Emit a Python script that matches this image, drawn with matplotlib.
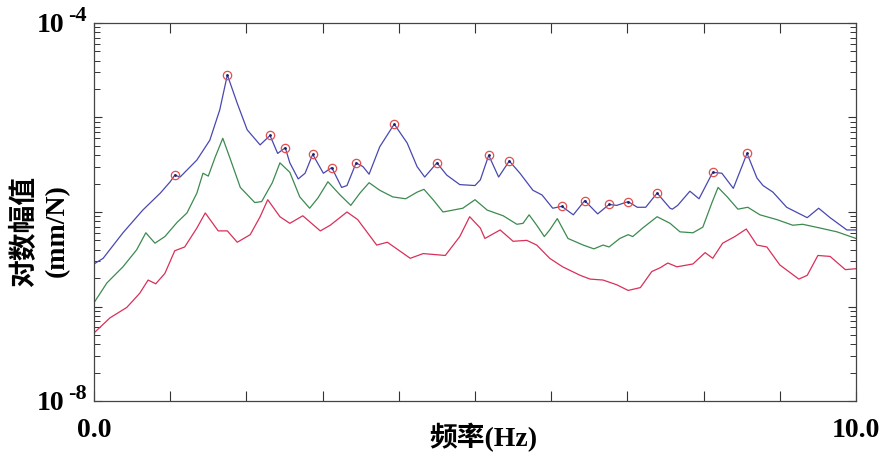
import numpy as np
import matplotlib.pyplot as plt
from matplotlib.ticker import FixedLocator, FixedFormatter, LogLocator, NullFormatter

plt.rcParams['font.family'] = ['Liberation Serif', 'Noto Sans CJK SC']

# log10 of amplitude (mm/N)
blue_f = [0.00, 0.12, 0.38, 0.64, 0.87, 1.00, 1.06, 1.13, 1.35, 1.52, 1.65, 1.75, 1.88, 2.01,
          2.18, 2.31, 2.41, 2.51, 2.57, 2.68, 2.77, 2.87, 3.01, 3.12, 3.25, 3.32, 3.44, 3.53,
          3.61, 3.75, 3.94, 4.11, 4.24, 4.34, 4.50, 4.63, 4.80, 5.00, 5.07, 5.18, 5.31, 5.45,
          5.59, 5.76, 5.88, 6.02, 6.14, 6.29, 6.44, 6.61, 6.76, 6.86, 7.01, 7.13, 7.24, 7.39,
          7.56, 7.59, 7.66, 7.82, 7.94, 8.12, 8.24, 8.39, 8.57, 8.70, 8.78, 8.91, 9.09, 9.36,
          9.51, 9.66, 9.88, 10.0]
blue_e = [-6.55, -6.49, -6.22, -5.98, -5.80, -5.68, -5.61, -5.63, -5.45, -5.24, -4.92, -4.55, -4.85, -5.13,
          -5.29, -5.19, -5.38, -5.32, -5.48, -5.65, -5.59, -5.39, -5.59, -5.53, -5.74, -5.72, -5.48, -5.52,
          -5.60, -5.31, -5.07, -5.27, -5.52, -5.63, -5.48, -5.61, -5.71, -5.72, -5.66, -5.40, -5.63, -5.46,
          -5.59, -5.77, -5.82, -5.96, -5.94, -6.03, -5.88, -6.02, -5.92, -5.93, -5.89, -5.95, -5.95, -5.80,
          -5.96, -5.97, -5.93, -5.78, -5.86, -5.58, -5.59, -5.75, -5.38, -5.64, -5.72, -5.79, -5.95, -6.06,
          -5.96, -6.06, -6.19, -6.19]

green_f = [0.00, 0.17, 0.38, 0.56, 0.68, 0.80, 0.93, 1.09, 1.22, 1.35, 1.43, 1.50, 1.59, 1.69,
           1.78, 1.92, 2.11, 2.20, 2.34, 2.44, 2.57, 2.70, 2.83, 2.94, 3.07, 3.23, 3.37, 3.49,
           3.61, 3.75, 3.92, 4.09, 4.24, 4.33, 4.45, 4.58, 4.84, 5.00, 5.16, 5.37, 5.55, 5.63,
           5.71, 5.81, 5.91, 5.98, 6.08, 6.22, 6.42, 6.56, 6.68, 6.76, 6.90, 7.01, 7.07, 7.20,
           7.39, 7.56, 7.69, 7.86, 7.99, 8.11, 8.19, 8.31, 8.45, 8.58, 8.74, 8.96, 9.17, 9.30,
           9.53, 9.75, 10.0]
green_e = [-6.96, -6.75, -6.58, -6.40, -6.22, -6.33, -6.26, -6.11, -6.01, -5.80, -5.59, -5.62, -5.42, -5.22,
           -5.42, -5.74, -5.90, -5.89, -5.69, -5.48, -5.58, -5.84, -5.96, -5.85, -5.68, -5.82, -5.93, -5.80,
           -5.69, -5.77, -5.84, -5.86, -5.79, -5.76, -5.87, -6.00, -5.96, -5.87, -5.98, -6.04, -6.13, -6.12,
           -6.03, -6.14, -6.26, -6.19, -6.07, -6.28, -6.35, -6.39, -6.35, -6.37, -6.28, -6.24, -6.26, -6.17,
           -6.05, -6.12, -6.21, -6.22, -6.16, -5.90, -5.74, -5.84, -5.97, -5.95, -6.03, -6.08, -6.14, -6.13,
           -6.17, -6.21, -6.28]

red_f = [0.00, 0.21, 0.43, 0.60, 0.71, 0.81, 0.93, 1.06, 1.19, 1.35, 1.46, 1.63, 1.75, 1.88,
         2.05, 2.18, 2.28, 2.44, 2.57, 2.74, 2.97, 3.10, 3.32, 3.46, 3.71, 3.85, 4.15, 4.32,
         4.61, 4.80, 4.93, 5.07, 5.13, 5.33, 5.50, 5.68, 5.81, 5.98, 6.15, 6.38, 6.51, 6.68,
         6.86, 7.01, 7.17, 7.32, 7.43, 7.53, 7.65, 7.86, 8.02, 8.12, 8.25, 8.41, 8.56, 8.70,
         8.83, 9.00, 9.25, 9.36, 9.50, 9.66, 9.86, 10.0]
red_e = [-7.28, -7.12, -7.01, -6.86, -6.72, -6.76, -6.65, -6.41, -6.37, -6.17, -6.01, -6.20, -6.20, -6.32,
         -6.24, -6.05, -5.87, -6.05, -6.12, -6.04, -6.20, -6.14, -6.00, -6.08, -6.35, -6.32, -6.49, -6.44,
         -6.46, -6.26, -6.05, -6.17, -6.28, -6.19, -6.31, -6.30, -6.35, -6.49, -6.58, -6.67, -6.71, -6.72,
         -6.77, -6.83, -6.80, -6.63, -6.59, -6.54, -6.58, -6.55, -6.43, -6.49, -6.33, -6.26, -6.18, -6.35,
         -6.37, -6.56, -6.71, -6.67, -6.46, -6.47, -6.61, -6.60]

# picked peaks on the blue curve (Hz)
peak_f = [1.06, 1.75, 2.31, 2.51, 2.87, 3.12, 3.44, 3.94, 4.50, 5.18, 5.45,
          6.14, 6.44, 6.76, 7.01, 7.39, 8.12, 8.57]

ytick_vals = [1e-8, 1e-7, 1e-6, 1e-5, 1e-4]
ytick_exp = ['-8', '', '', '', '-4']

blue = 10.0 ** np.array(blue_e)
green = 10.0 ** np.array(green_e)
red = 10.0 ** np.array(red_e)
peak_v = np.interp(peak_f, blue_f, blue)

fig = plt.figure(figsize=(8.89, 4.53), dpi=100)
ax = fig.add_axes([94 / 889, 52 / 453, 762 / 889, 378 / 453])

ax.plot(red_f, red, color='#d8305a', lw=0.9)
ax.plot(green_f, green, color='#3c8a50', lw=0.9)
ax.plot(blue_f, blue, color='#4848b0', lw=0.9)
ax.plot(peak_f, peak_v, 'o', ms=6, mfc='none', mec='#e05050', mew=0.9)
ax.plot(peak_f, peak_v, '.', ms=2, color='#202060')

ax.set_yscale('log')
ax.set_xlim(0, 10)
ax.set_ylim(1e-8, 1e-4)

ax.xaxis.set_major_locator(FixedLocator(np.arange(0, 11)))
ax.xaxis.set_major_formatter(FixedFormatter(['0.0'] + [''] * 9 + ['10.0']))
ax.yaxis.set_major_locator(FixedLocator(ytick_vals))
ax.yaxis.set_major_formatter(FixedFormatter(['10' if e else '' for e in ytick_exp]))
ax.yaxis.set_minor_locator(LogLocator(base=10, subs=np.arange(2, 10), numticks=20))
ax.yaxis.set_minor_formatter(NullFormatter())

# exponents of the y labels, written next to the "10"
for v, e in zip(ytick_vals, ytick_exp):
    if e:
        ax.annotate(e, xy=(0, v), xycoords=('axes fraction', 'data'),
                    xytext=(-5.5, 5), textcoords='offset points',
                    ha='right', va='center', fontsize=16, fontweight='bold',
                    annotation_clip=False)

ax.tick_params(axis='x', which='major', direction='in', top=True, length=7, width=0.8,
               pad=12, labelsize=20, color='#333333')
ax.tick_params(axis='y', which='major', direction='in', right=True, length=6, width=0.8,
               pad=21, labelsize=20, color='#333333')
ax.tick_params(axis='y', which='minor', direction='in', right=True, length=4, width=0.7,
               color='#333333')
for lab in ax.get_xticklabels() + ax.get_yticklabels():
    lab.set_fontweight('bold')
for sp in ax.spines.values():
    sp.set_linewidth(0.9)
    sp.set_color('#444444')

fig.text(483 / 889, 16 / 453, '频率(Hz)', fontsize=20, fontweight='bold',
         ha='center', va='center')
fig.text(0.028, 0.49, '对数幅值', rotation=90, fontsize=20, fontweight='bold',
         ha='center', va='center')
fig.text(0.065, 0.49, '(mm/N)', rotation=90, fontsize=20, fontweight='bold',
         ha='center', va='center')

fig.savefig('out.png', dpi=100)
